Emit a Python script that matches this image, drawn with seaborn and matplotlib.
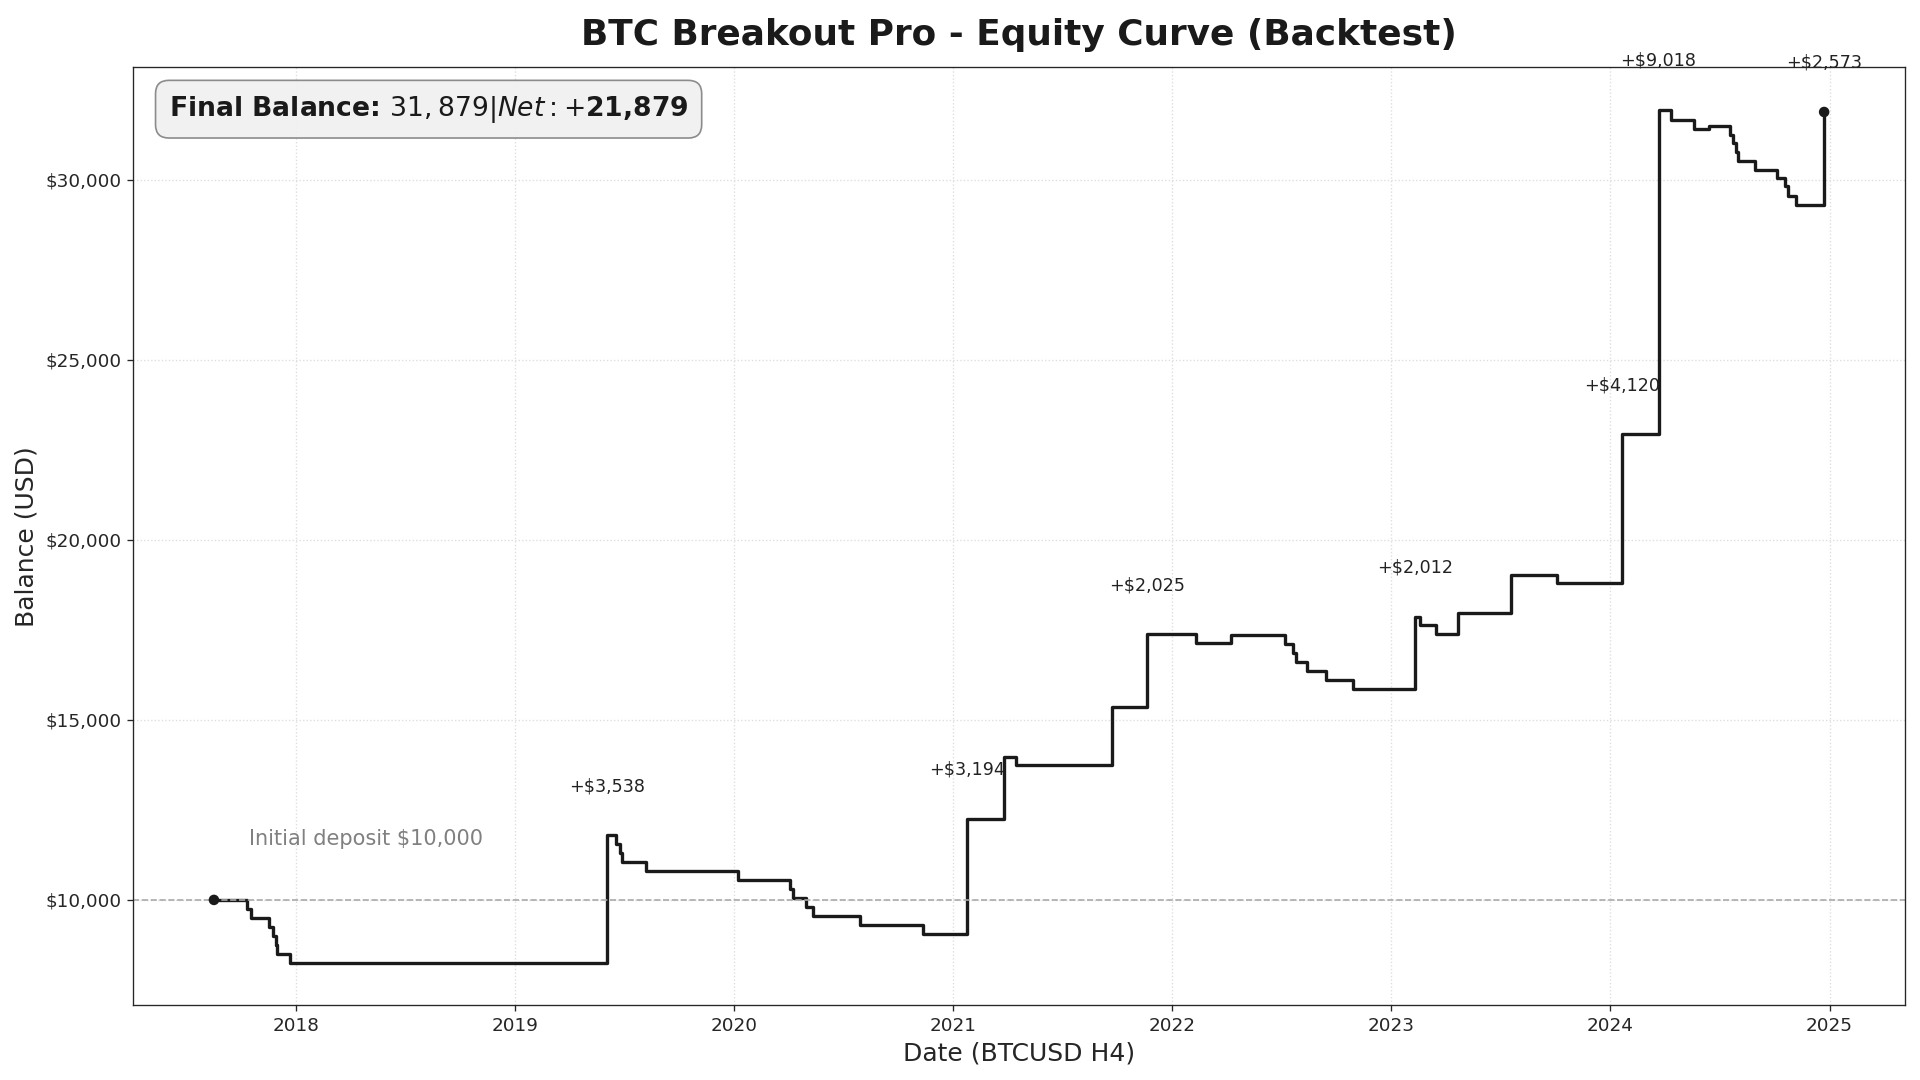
import matplotlib
matplotlib.use("Agg")
import pandas as pd
import matplotlib.pyplot as plt
import matplotlib.dates as mdates
import matplotlib.ticker as mticker
import seaborn as sns

# Backtest equity: balance after each closed trade (BTCUSD H4)
trade_dates = [
    "2017-08-17", "2017-10-11", "2017-10-17", "2017-11-17", "2017-11-23",
    "2017-11-28", "2017-11-30", "2017-12-22", "2019-06-04", "2019-06-19",
    "2019-06-25", "2019-06-28", "2019-08-07", "2020-01-08", "2020-04-03",
    "2020-04-08", "2020-05-01", "2020-05-12", "2020-07-30", "2020-11-12",
    "2021-01-24", "2021-03-26", "2021-04-16", "2021-09-22", "2021-11-20",
    "2022-02-10", "2022-04-09", "2022-07-08", "2022-07-21", "2022-07-26",
    "2022-08-13", "2022-09-14", "2022-10-29", "2023-02-10", "2023-02-18",
    "2023-03-17", "2023-04-22", "2023-07-20", "2023-10-04", "2024-01-21",
    "2024-03-22", "2024-04-12", "2024-05-20", "2024-06-14", "2024-07-19",
    "2024-07-24", "2024-07-29", "2024-08-02", "2024-08-30", "2024-10-06",
    "2024-10-19", "2024-10-24", "2024-11-06", "2024-12-23",
]
balances = [
    10000, 9750, 9500, 9250, 9000,
    8750, 8500, 8253, 11791, 11545,
    11300, 11055, 10812, 10563, 10314,
    10060, 9806, 9556, 9307, 9057,
    12251, 13982, 13752, 15352, 17377,
    17127, 17365, 17115, 16866, 16612,
    16358, 16109, 15856, 17868, 17628,
    17385, 17958, 19020, 18807, 22927,
    31945, 31665, 31408, 31491, 31250,
    31008, 30759, 30529, 30279, 30038,
    29816, 29558, 29306, 31879,
]
initial_deposit = 10000
big_win_threshold = 2000

df = pd.DataFrame({"date": pd.to_datetime(trade_dates), "balance": balances})
df["change"] = df["balance"].diff()

sns.set_style("ticks")
plt.rcParams["font.family"] = ["DejaVu Sans"]

fig, ax = plt.subplots(figsize=(16, 9), dpi=120)
fig.subplots_adjust(left=0.0695, right=0.992, top=0.938, bottom=0.069)

# Equity curve as steps
sns.lineplot(data=df, x="date", y="balance", drawstyle="steps-post",
             color="#1a1a1a", linewidth=2, ax=ax)
ends = df.iloc[[0, -1]]
sns.scatterplot(data=ends, x="date", y="balance", color="#1a1a1a",
                s=40, edgecolor="none", zorder=5, ax=ax)

# Initial deposit reference
ax.axhline(initial_deposit, color="#aaaaaa", linestyle="--", linewidth=1)
ax.text(pd.Timestamp("2017-10-15"), initial_deposit * 1.14,
        f"Initial deposit ${initial_deposit:,}", color="gray",
        fontsize=12.5, ha="left", va="bottom")

# Label the big winning trades
for _, row in df[df["change"] > big_win_threshold].iterrows():
    ax.annotate(f"+${row['change']:,.0f}", (row["date"], row["balance"]),
                xytext=(0, 24), textcoords="offset points",
                ha="center", va="bottom", fontsize=10.5, color="#222222")

final = df["balance"].iloc[-1]
net = final - initial_deposit
ax.text(0.02, 0.955, f"Final Balance: ${final:,.0f} | Net: +${net:,.0f}",
        transform=ax.transAxes, fontsize=16, fontweight="bold", va="center",
        color="#1a1a1a",
        bbox=dict(boxstyle="round,pad=0.5", facecolor="#f0f0f0",
                  edgecolor="gray", alpha=0.9))

ax.xaxis.set_major_locator(mdates.YearLocator())
ax.xaxis.set_major_formatter(mdates.DateFormatter("%Y"))
ax.yaxis.set_major_formatter(mticker.StrMethodFormatter("${x:,.0f}"))
ax.grid(True, linestyle=":", color="#dddddd", linewidth=0.8)
ax.tick_params(labelsize=11)

ax.set_title("BTC Breakout Pro - Equity Curve (Backtest)", fontsize=21.5,
             fontweight="bold", pad=13, color="#1a1a1a")
ax.set_xlabel("Date (BTCUSD H4)", fontsize=15)
ax.set_ylabel("Balance (USD)", fontsize=15)

fig.savefig("out.png", dpi=120)
